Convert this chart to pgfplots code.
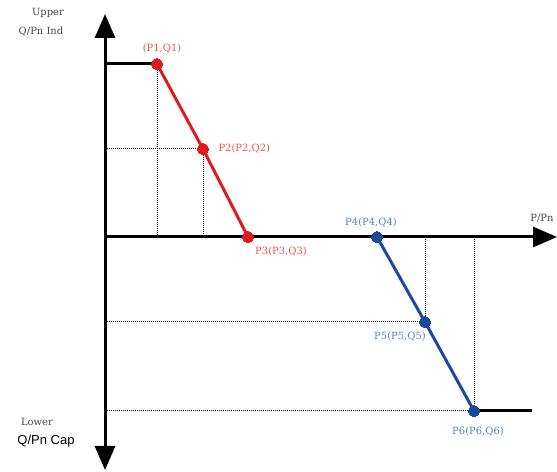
\documentclass[border=0pt]{standalone}
\usepackage{pgfplots}
\pgfplotsset{compat=1.18}
\usepackage{fontspec}
\setmainfont{DejaVu Serif}
\newfontfamily\capfont{Liberation Sans}
\usetikzlibrary{arrows.meta}
\definecolor{cred}{RGB}{222,28,28}
\definecolor{cblue}{RGB}{28,72,158}
\definecolor{tred}{RGB}{232,84,84}
\definecolor{tblue}{RGB}{88,128,196}
\definecolor{tgray}{RGB}{70,70,70}
\begin{document}
\begin{tikzpicture}
\begin{axis}[
  scale only axis, width=557bp, height=472bp,
  xmin=0, xmax=557, ymin=0, ymax=472,
  axis lines=none, clip=false,
  every node/.style={font=\fontsize{10bp}{12bp}\selectfont},
]
% dotted guides
\addplot[black, dash pattern=on 1bp off 1bp, line width=1bp] coordinates {(157,408) (157,235)};
\addplot[black, dash pattern=on 1bp off 1bp, line width=1bp] coordinates {(105,323) (203,323) (203,235)};
\addplot[black, dash pattern=on 1bp off 1bp, line width=1bp] coordinates {(105,150) (425,150) (425,235)};
\addplot[black, dash pattern=on 1bp off 1bp, line width=1bp] coordinates {(105,61) (474,61) (474,235)};
% axes
\addplot[black, line width=3bp, -{Triangle[width=20bp,length=24bp]}] coordinates {(105,235) (105,458)};
\addplot[black, line width=3bp, -{Triangle[width=20bp,length=24bp]}] coordinates {(105,235) (105,2)};
\addplot[black, line width=3bp, -{Triangle[width=20bp,length=24bp]}] coordinates {(105,235) (557,235)};
% flat segments
\addplot[black, line width=3bp] coordinates {(105,408) (157,408)};
\addplot[black, line width=3bp] coordinates {(474,61) (532,61)};
% curves
\addplot[cred, line width=3bp, mark=*, mark size=5.5bp, mark options={fill=cred, draw=cred, line width=0pt}] coordinates {(157,408) (203,323) (248,235)};
\addplot[cblue, line width=3bp, mark=*, mark size=5.5bp, mark options={fill=cblue, draw=cblue, line width=0pt}] coordinates {(377,235) (425,150) (474,61)};
% labels
\node[text=tred] at (axis cs:162,423) {(P1,Q1)};
\node[text=tred, anchor=west] at (axis cs:215,323) {P2(P2,Q2)};
\node[text=tred] at (axis cs:281,220) {P3(P3,Q3)};
\node[text=tblue] at (axis cs:371,249) {P4(P4,Q4)};
\node[text=tblue] at (axis cs:400,135) {P5(P5,Q5)};
\node[text=tblue] at (axis cs:478,40) {P6(P6,Q6)};
\node[text=tgray] at (axis cs:542,254) {P/Pn};
\node[text=tgray] at (axis cs:48,459) {Upper};
\node[text=tgray] at (axis cs:41,440) {Q/Pn Ind};
\node[text=tgray] at (axis cs:37,50) {Lower};
\node[text=black, font=\capfont\fontsize{13bp}{15bp}\selectfont] at (axis cs:46,31) {Q/Pn Cap};
\end{axis}
\pgfresetboundingbox
\useasboundingbox (0,0) rectangle (557bp,472bp);
\end{tikzpicture}
\end{document}
